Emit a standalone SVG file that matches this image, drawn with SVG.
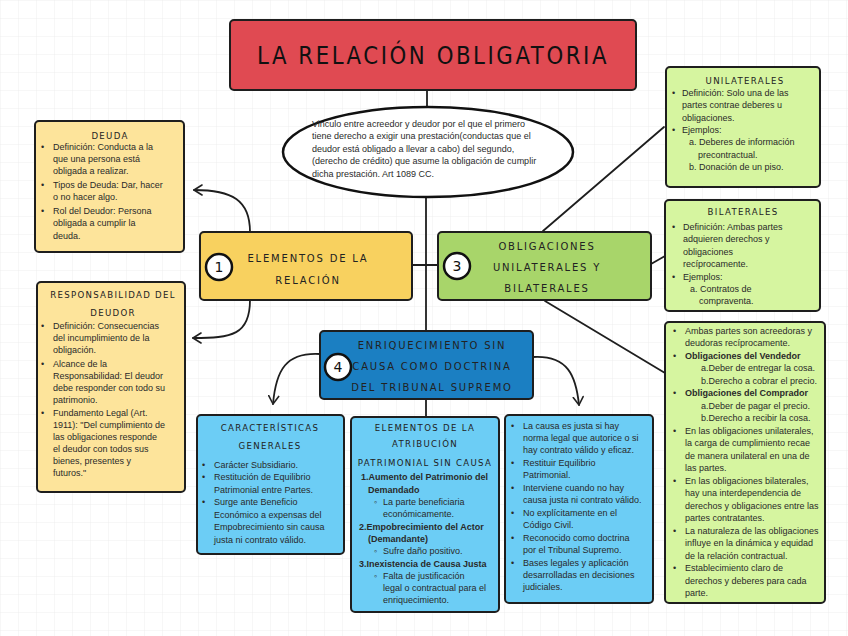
<svg xmlns="http://www.w3.org/2000/svg" width="848" height="636" viewBox="0 0 848 636">
<defs>
<pattern id="grid" width="18" height="18" patternUnits="userSpaceOnUse">
<path d="M18 0H0V18" fill="none" stroke="#ececec" stroke-width="0.8"/>
</pattern>
<marker id="arr" markerWidth="12" markerHeight="12" refX="9" refY="6" orient="auto" markerUnits="userSpaceOnUse">
<path d="M1,1 L9,6 L1,11" fill="none" stroke="#222" stroke-width="1.6" stroke-linecap="round" stroke-linejoin="round"/>
</marker>
<style>
.box{stroke:#1e1e1e;stroke-width:2}
.red{fill:#e04a52}.yel{fill:#f8d15f}.lyel{fill:#fde49b}.grn{fill:#a8d56a}.lgrn{fill:#d6f5a0}.blu{fill:#1b7fc2}.lblu{fill:#6ccdf5}
.ln{fill:none;stroke:#1e1e1e;stroke-width:1.8;stroke-linecap:round}
.hd{font-family:"DejaVu Sans",sans-serif;font-size:10px;letter-spacing:1.8px;fill:#222;text-anchor:middle}
.sh{font-family:"DejaVu Sans",sans-serif;font-size:8.6px;letter-spacing:1.3px;fill:#222;text-anchor:middle}
.tx{font-family:"Liberation Sans",Arial,sans-serif;font-size:9px;fill:#2a2a2a}
.b{font-weight:bold}
.num{font-family:"DejaVu Sans",sans-serif;font-size:14px;fill:#111;text-anchor:middle}
.circ{fill:#fff;stroke:#111;stroke-width:2.5}
</style>
</defs>
<rect width="848" height="636" fill="#fff"/>
<rect width="848" height="636" fill="url(#grid)"/>

<g id="connectors">
<path class="ln" d="M427,90 V108"/>
<path class="ln" d="M426,197 V331"/>
<path class="ln" d="M412,265 H438"/>
<path class="ln" d="M426,399 V417"/>
<path class="ln" d="M543,231 L664,127"/>
<path class="ln" d="M651,264 L665,256"/>
<path class="ln" d="M545,301 L665,373"/>
<path class="ln" d="M250,232 C250,200 232,190 194,190" marker-end="url(#arr)"/>
<path class="ln" d="M250,300 C250,335 232,338 193,338" marker-end="url(#arr)"/>
<path class="ln" d="M320,354 C286,352 276,370 273,404" marker-end="url(#arr)"/>
<path class="ln" d="M533,357 C568,355 576,376 579,405" marker-end="url(#arr)"/>
</g>

<g id="title">
<rect class="box red" x="230" y="20" width="406" height="70" rx="4"/>
<text x="433" y="64" font-family="DejaVu Sans,sans-serif" font-size="25" fill="#111" text-anchor="middle" letter-spacing="3" textLength="352" lengthAdjust="spacingAndGlyphs">LA RELACIÓN OBLIGATORIA</text>
</g>

<g id="definicion">
<ellipse cx="428" cy="152" rx="145" ry="45" fill="#fff" stroke="#111" stroke-width="2.5"/>
<text class="tx" x="312" y="127">Vinculo entre acreedor y deudor por el que el primero</text>
<text class="tx" x="312" y="139">tiene derecho a exigir una prestación(conductas que el</text>
<text class="tx" x="312" y="152">deudor está obligado a llevar a cabo) del segundo,</text>
<text class="tx" x="312" y="164">(derecho de crédito) que asume la obligación de cumplir</text>
<text class="tx" x="312" y="177">dicha prestación. Art 1089 CC.</text>
</g>

<g id="n1">
<rect class="box yel" x="200" y="232" width="212" height="68" rx="4"/>
<circle class="circ" cx="219" cy="267" r="13"/>
<text class="num" x="219" y="272">1</text>
<text class="hd" x="308" y="262">ELEMENTOS DE LA</text>
<text class="hd" x="308" y="284">RELACIÓN</text>
</g>

<g id="n3">
<rect class="box grn" x="438" y="232" width="213" height="68" rx="4"/>
<circle class="circ" cx="457" cy="266" r="13"/>
<text class="num" x="457" y="271">3</text>
<text class="hd" x="547" y="250">OBLIGACIONES</text>
<text class="hd" x="547" y="271">UNILATERALES Y</text>
<text class="hd" x="547" y="292">BILATERALES</text>
</g>

<g id="n4">
<rect class="box blu" x="320" y="331" width="213" height="68" rx="4"/>
<circle class="circ" cx="338" cy="367" r="13"/>
<text class="num" x="338" y="372">4</text>
<text class="hd" x="432" y="349">ENRIQUECIMIENTO SIN</text>
<text class="hd" x="432" y="370">CAUSA COMO DOCTRINA</text>
<text class="hd" x="432" y="391">DEL TRIBUNAL SUPREMO</text>
</g>

<g id="deuda">
<rect class="box lyel" x="35" y="121" width="149" height="131" rx="4"/>
<text class="sh" x="110" y="139">DEUDA</text>
<text class="tx"><tspan x="41" y="150">•</tspan><tspan x="53" y="150">Definición: Conducta a la</tspan><tspan x="53" y="162">que una persona está</tspan><tspan x="53" y="174">obligada a realizar.</tspan><tspan x="41" y="188">•</tspan><tspan x="53" y="188">Tipos de Deuda: Dar, hacer</tspan><tspan x="53" y="200">o no hacer algo.</tspan><tspan x="41" y="214">•</tspan><tspan x="53" y="214">Rol del Deudor: Persona</tspan><tspan x="53" y="226">obligada a cumplir la</tspan><tspan x="53" y="239">deuda.</tspan></text>
</g>

<g id="responsabilidad">
<rect class="box lyel" x="37" y="282" width="148" height="210" rx="4"/>
<text class="sh" x="113" y="298">RESPONSABILIDAD DEL</text>
<text class="sh" x="113" y="316">DEUDOR</text>
<text class="tx"><tspan x="41" y="329">•</tspan><tspan x="53" y="329">Definición: Consecuencias</tspan><tspan x="53" y="341">del incumplimiento de la</tspan><tspan x="53" y="353">obligación.</tspan><tspan x="41" y="367">•</tspan><tspan x="53" y="367">Alcance de la</tspan><tspan x="53" y="379">Responsabilidad: El deudor</tspan><tspan x="53" y="391">debe responder con todo su</tspan><tspan x="53" y="403">patrimonio.</tspan><tspan x="41" y="416">•</tspan><tspan x="53" y="416">Fundamento Legal (Art.</tspan><tspan x="53" y="428">1911): "Del cumplimiento de</tspan><tspan x="53" y="440">las obligaciones responde</tspan><tspan x="53" y="452">el deudor con todos sus</tspan><tspan x="53" y="464">bienes, presentes y</tspan><tspan x="53" y="476">futuros."</tspan></text>
</g>

<g id="unilaterales">
<rect class="box lgrn" x="666" y="67" width="154" height="120" rx="4"/>
<text class="sh" x="745" y="84">UNILATERALES</text>
<text class="tx"><tspan x="672" y="96">•</tspan><tspan x="682" y="96">Definición: Solo una de las</tspan><tspan x="682" y="108">partes contrae deberes u</tspan><tspan x="682" y="121">obligaciones.</tspan><tspan x="672" y="133">•</tspan><tspan x="682" y="133">Ejemplos:</tspan><tspan x="689" y="145">a. Deberes de información</tspan><tspan x="698" y="158">precontractual.</tspan><tspan x="689" y="170">b. Donación de un piso.</tspan></text>
</g>

<g id="bilaterales">
<rect class="box lgrn" x="665" y="200" width="155" height="111" rx="4"/>
<text class="sh" x="743" y="215">BILATERALES</text>
<text class="tx"><tspan x="672" y="230">•</tspan><tspan x="683" y="230">Definición: Ambas partes</tspan><tspan x="683" y="242">adquieren derechos y</tspan><tspan x="683" y="255">obligaciones</tspan><tspan x="683" y="267">recíprocamente.</tspan><tspan x="672" y="280">•</tspan><tspan x="683" y="280">Ejemplos:</tspan><tspan x="690" y="292">a. Contratos de</tspan><tspan x="699" y="304">compraventa.</tspan></text>
</g>

<g id="detalle">
<rect class="box lgrn" x="665" y="322" width="160" height="281" rx="4"/>
<text class="tx"><tspan x="673" y="334">•</tspan><tspan x="685" y="334">Ambas partes son acreedoras y</tspan><tspan x="685" y="346">deudoras recíprocamente.</tspan><tspan x="673" y="359">•</tspan><tspan x="685" y="359" font-weight="bold">Obligaciones del Vendedor</tspan><tspan x="701" y="371">a.Deber de entregar la cosa.</tspan><tspan x="701" y="384">b.Derecho a cobrar el precio.</tspan><tspan x="673" y="396">•</tspan><tspan x="685" y="396" font-weight="bold">Obligaciones del Comprador</tspan><tspan x="701" y="409">a.Deber de pagar el precio.</tspan><tspan x="701" y="421">b.Derecho a recibir la cosa.</tspan><tspan x="673" y="434">•</tspan><tspan x="685" y="434">En las obligaciones unilaterales,</tspan><tspan x="685" y="446">la carga de cumplimiento recae</tspan><tspan x="685" y="459">de manera unilateral en una de</tspan><tspan x="685" y="471">las partes.</tspan><tspan x="673" y="484">•</tspan><tspan x="685" y="484">En las obligaciones bilaterales,</tspan><tspan x="685" y="496">hay una interdependencia de</tspan><tspan x="685" y="509">derechos y obligaciones entre las</tspan><tspan x="685" y="521">partes contratantes.</tspan><tspan x="673" y="534">•</tspan><tspan x="685" y="534">La naturaleza de las obligaciones</tspan><tspan x="685" y="546">influye en la dinámica y equidad</tspan><tspan x="685" y="559">de la relación contractual.</tspan><tspan x="673" y="571">•</tspan><tspan x="685" y="571">Establecimiento claro de</tspan><tspan x="685" y="584">derechos y deberes para cada</tspan><tspan x="685" y="596">parte.</tspan></text>
</g>

<g id="caracteristicas">
<rect class="box lblu" x="197" y="415" width="147" height="139" rx="4"/>
<text class="sh" x="270" y="431">CARACTERÍSTICAS</text>
<text class="sh" x="270" y="449">GENERALES</text>
<text class="tx"><tspan x="202" y="468">•</tspan><tspan x="214" y="468">Carácter Subsidiario.</tspan><tspan x="202" y="480">•</tspan><tspan x="214" y="480">Restitución de Equilibrio</tspan><tspan x="214" y="493">Patrimonial entre Partes.</tspan><tspan x="202" y="505">•</tspan><tspan x="214" y="505">Surge ante Beneficio</tspan><tspan x="214" y="518">Económico a expensas del</tspan><tspan x="214" y="530">Empobrecimiento sin causa</tspan><tspan x="214" y="543">justa ni contrato válido.</tspan></text>
</g>

<g id="elementos-atribucion">
<rect class="box lblu" x="351" y="417" width="148" height="195" rx="4"/>
<text class="sh" x="425" y="431">ELEMENTOS DE LA</text>
<text class="sh" x="425" y="447">ATRIBUCIÓN</text>
<text class="sh" x="425" y="466" letter-spacing="1px">PATRIMONIAL SIN CAUSA</text>
<text class="tx"><tspan x="361" y="480" font-weight="bold">1.Aumento del Patrimonio del</tspan><tspan x="368" y="493" font-weight="bold">Demandado</tspan><tspan x="374" y="505">◦</tspan><tspan x="383" y="505">La parte beneficiaria</tspan><tspan x="383" y="517">económicamente.</tspan><tspan x="359" y="530" font-weight="bold">2.Empobrecimiento del Actor</tspan><tspan x="368" y="542" font-weight="bold">(Demandante)</tspan><tspan x="374" y="554">◦</tspan><tspan x="383" y="554">Sufre daño positivo.</tspan><tspan x="359" y="567" font-weight="bold">3.Inexistencia de Causa Justa</tspan><tspan x="374" y="579">◦</tspan><tspan x="383" y="579">Falta de justificación</tspan><tspan x="383" y="591">legal o contractual para el</tspan><tspan x="383" y="603">enriquecimiento.</tspan></text>
</g>

<g id="causa">
<rect class="box lblu" x="505" y="415" width="148" height="188" rx="4"/>
<text class="tx"><tspan x="511" y="429">•</tspan><tspan x="523" y="429">La causa es justa si hay</tspan><tspan x="523" y="441">norma legal que autorice o si</tspan><tspan x="523" y="453">hay contrato válido y eficaz.</tspan><tspan x="511" y="466">•</tspan><tspan x="523" y="466">Restituir Equilibrio</tspan><tspan x="523" y="478">Patrimonial.</tspan><tspan x="511" y="491">•</tspan><tspan x="523" y="491">Interviene cuando no hay</tspan><tspan x="523" y="503">causa justa ni contrato válido.</tspan><tspan x="511" y="516">•</tspan><tspan x="523" y="516">No explícitamente en el</tspan><tspan x="523" y="528">Código Civil.</tspan><tspan x="511" y="541">•</tspan><tspan x="523" y="541">Reconocido como doctrina</tspan><tspan x="523" y="553">por el Tribunal Supremo.</tspan><tspan x="511" y="566">•</tspan><tspan x="523" y="566">Bases legales y aplicación</tspan><tspan x="523" y="578">desarrolladas en decisiones</tspan><tspan x="523" y="590">judiciales.</tspan></text>
</g>
</svg>
